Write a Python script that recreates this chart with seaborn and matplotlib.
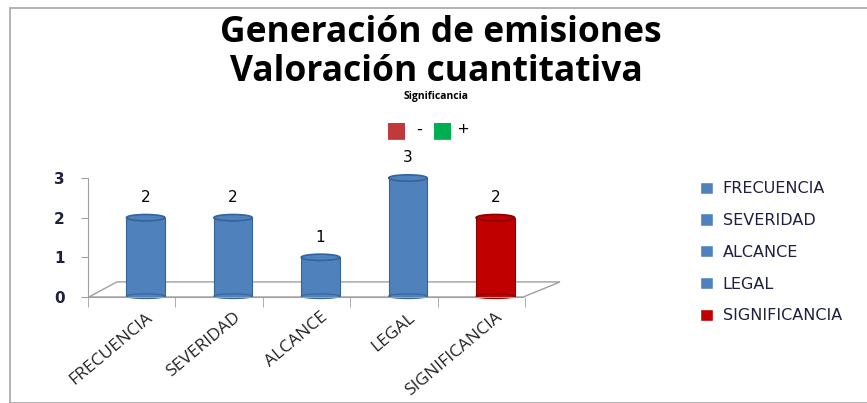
import numpy as np
import pandas as pd
import matplotlib
matplotlib.use("Agg")
import matplotlib.pyplot as plt
from matplotlib.patches import Ellipse, Polygon, Rectangle
import seaborn as sns

# ======================= Data =======================
categorias = ["FRECUENCIA", "SEVERIDAD", "ALCANCE", "LEGAL", "SIGNIFICANCIA"]
valores = [2, 2, 1, 3, 2]
colores = ["#4F81BD", "#4F81BD", "#4F81BD", "#4F81BD", "#C00000"]
bordes = ["#36639A", "#36639A", "#36639A", "#36639A", "#8B0000"]
yticks = [0, 1, 2, 3]

W, H = 867, 403


def fx(x):
    return x / W


def fy(y):
    return 1 - y / H


df = pd.DataFrame({"categoria": categorias, "valor": valores})

sns.set_style("white")
plt.rcParams["font.family"] = ["Open Sans", "DejaVu Sans"]

fig = plt.figure(figsize=(W / 100, H / 100), dpi=100)
# chart frame
fig.patches.append(Rectangle((fx(10), 0), 1.2, fy(8), transform=fig.transFigure,
                             fill=False, edgecolor="#A6A6A6", lw=1.2))

ax = fig.add_axes([fx(88), fy(297), fx(560) - fx(88), fy(178) - fy(297)])
sns.barplot(data=df, x="categoria", y="valor", hue="categoria",
            palette=dict(zip(categorias, colores)), dodge=False, width=0.44,
            saturation=1, ax=ax, legend=True)

ax.set_xlim(-0.65, 4.74)
ax.set_ylim(0, 3)

# cylinder look: caps on each bar, taken from the bar geometry
for cont, borde in zip(ax.containers, bordes):
    for p in cont:
        if np.isnan(p.get_height()) or p.get_height() == 0:
            continue
        p.set_edgecolor(borde)
        p.set_linewidth(0.8)
        cx = p.get_x() + p.get_width() / 2
        ax.add_patch(Ellipse((cx, p.get_height()), p.get_width(), 0.16,
                             facecolor=p.get_facecolor(), edgecolor=borde, lw=1.2,
                             zorder=3, clip_on=False))
        ax.add_patch(Ellipse((cx, 0.02), p.get_width(), 0.12,
                             facecolor=p.get_facecolor(), edgecolor=borde, lw=0.8,
                             zorder=1.5, clip_on=False))
    ax.bar_label(cont, labels=[f"{v:g}" if v > 0 else "" for v in cont.datavalues],
                 padding=9, fontsize=11, color="black", family="DejaVu Sans")

# floor of the 3D plot
floor = Polygon([[-0.65, 0], [4.32, 0], [4.74, 0.38], [-0.33, 0.38]], closed=True,
                facecolor="none", edgecolor="#A0A0A0", lw=1.0, zorder=0.5,
                transform=ax.transData, clip_on=False)
ax.add_patch(floor)

for s in ["top", "right"]:
    ax.spines[s].set_visible(False)
ax.spines["left"].set_color("#A0A0A0")
ax.spines["bottom"].set_color("#A0A0A0")
ax.spines["bottom"].set_bounds(-0.65, 4.32)

ax.set_yticks(yticks)
ax.set_yticklabels([str(t) for t in yticks], fontsize=11, color="#1F1F3F",
                   fontweight="bold", family="DejaVu Sans")
ax.tick_params(axis="y", length=5, color="#A0A0A0", pad=12, left=True)

ax.set_xticks(np.arange(len(categorias)))
ax.set_xticklabels(categorias, rotation=40, ha="right", rotation_mode="anchor",
                   fontsize=12.5, color="#222222")
ax.set_xticks(np.arange(len(categorias) + 1) - 0.66, minor=True)
ax.tick_params(axis="x", which="major", length=0, pad=9)
ax.tick_params(axis="x", which="minor", length=7, color="#A0A0A0", bottom=True)
ax.set_xlabel("")
ax.set_ylabel("")

# legend on the right
handles, labels = ax.get_legend_handles_labels()
ax.get_legend().remove()
fig.legend(handles, labels, loc="upper left", bbox_to_anchor=(fx(686), fy(167)),
           frameon=False, handlelength=0.8, handleheight=0.8,
           handletextpad=0.6, labelspacing=1.05, labelcolor="#1F1F3F",
           prop={"family": "DejaVu Sans", "size": 11.5})

# titles
fig.text(fx(441), fy(33), "Generación de emisiones", ha="center", va="center",
         fontsize=25.5, fontweight="bold", color="black")
fig.text(fx(436), fy(72), "Valoración cuantitativa", ha="center", va="center",
         fontsize=25.5, fontweight="bold", color="black")
fig.text(fx(436), fy(96), "Significancia", ha="center", va="center",
         fontsize=7.5, fontweight="bold", color="black")
fig.text(fx(396), fy(130), "■", ha="center", va="center", fontsize=16,
         color="#C0393B", family="DejaVu Sans")
fig.text(fx(419), fy(130), "-", ha="center", va="center", fontsize=13, color="black")
fig.text(fx(442), fy(130), "■", ha="center", va="center", fontsize=16,
         color="#00B050", family="DejaVu Sans")
fig.text(fx(464), fy(130), "+", ha="center", va="center", fontsize=14, color="black")

fig.savefig("out.png", dpi=100)
